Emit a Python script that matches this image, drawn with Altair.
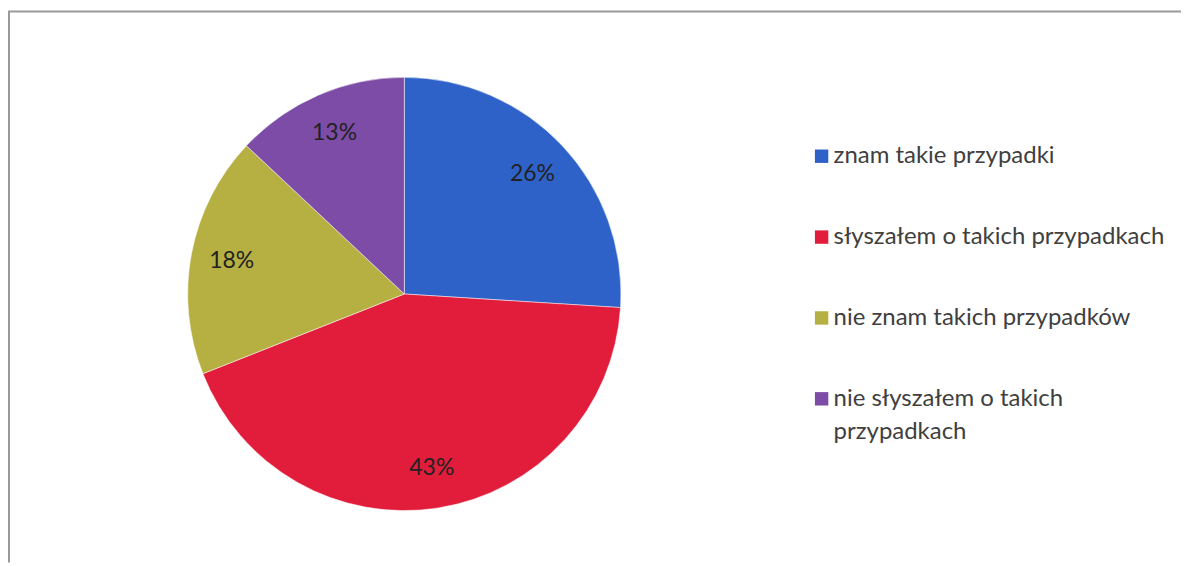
import altair as alt
import pandas as pd

categories = [
    "znam takie przypadki",
    "słyszałem o takich przypadkach",
    "nie znam takich przypadków",
    "nie słyszałem o takich przypadkach",
]
values = [26, 43, 18, 13]
pct_labels = ["26%", "43%", "18%", "13%"]
legend_lines = [
    ["znam takie przypadki"],
    ["słyszałem o takich przypadkach"],
    ["nie znam takich przypadków"],
    ["nie słyszałem o takich", "przypadkach"],
]
colors = ["#2f62c9", "#e21d3c", "#b6b043", "#7d4ca6"]

df = pd.DataFrame({
    "cat": categories,
    "value": values,
    "order": list(range(len(categories))),
    "pct": pct_labels,
    "lines": legend_lines,
})

W, H = 1175, 555
CX, CY, R = 397, 286, 217

base = alt.Chart(df)
color = alt.Color("cat:N", scale=alt.Scale(domain=categories, range=colors), legend=None)
theta = alt.Theta("value:Q", stack=True)
order = alt.Order("order:Q")

arcs = base.mark_arc(outerRadius=R, stroke="white", strokeWidth=0.5).encode(
    theta=theta, color=color, order=order, x=alt.value(CX), y=alt.value(CY)
)

labels = base.mark_text(radius=176, fontSize=23, font="Lato", color="#222222").encode(
    theta=theta, order=order, text="pct:N", x=alt.value(CX), y=alt.value(CY)
)

ypos = alt.Y("cat:N", sort=categories, axis=None,
             scale=alt.Scale(type="point", range=[148, 391], padding=0))

squares = base.mark_square(size=180, opacity=1).encode(
    x=alt.value(815), y=ypos, color=color
)

legend_text = base.mark_text(align="left", baseline="middle", fontSize=24,
                             font="Lato", color="#404040", lineHeight=33).encode(
    x=alt.value(827), y=ypos, text="lines"
)

border_data = alt.Data(values=[{"a": 1}])
top_line = alt.Chart(border_data).mark_rule(color="#9a9a9a", strokeWidth=2).encode(
    x=alt.value(0), x2=alt.value(W), y=alt.value(3)
)
left_line = alt.Chart(border_data).mark_rule(color="#9a9a9a", strokeWidth=2).encode(
    x=alt.value(1), y=alt.value(3), y2=alt.value(H)
)

chart = alt.layer(top_line, left_line, arcs, labels, squares, legend_text).properties(
    width=W, height=H, padding=0, autosize=alt.AutoSizeParams(type="none"),
    background="white"
).configure_view(strokeWidth=0)

chart.save("out.html", embed_options={"renderer": "svg", "actions": False})
